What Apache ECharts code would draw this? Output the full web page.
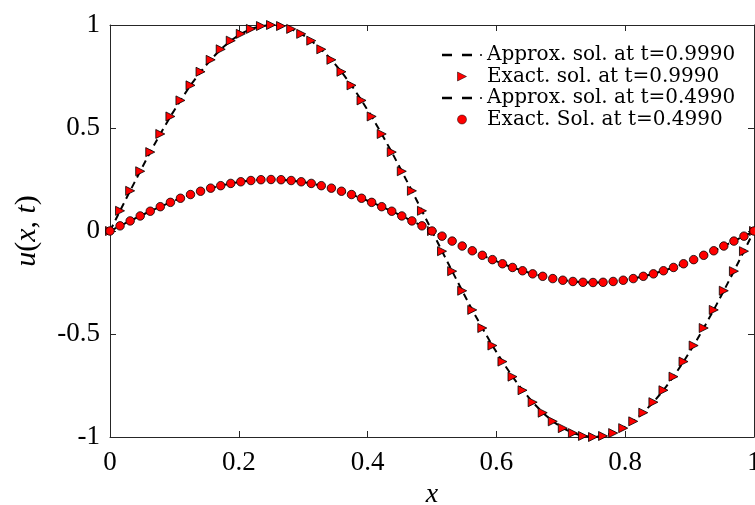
<!DOCTYPE html>
<html>
<head>
<meta charset="utf-8">
<script src="https://cdn.jsdelivr.net/npm/echarts@6/dist/echarts.min.js"></script>
<style>
  html, body { margin: 0; padding: 0; background: #fff; }
  #plot { width: 755px; height: 505px; }
</style>
</head>
<body>
<div id="plot"></div>
<script>
// x grid points
const xs = [0, 0.0156, 0.0313, 0.0469, 0.0625, 0.0781, 0.0938, 0.1094, 0.125, 0.1406, 0.1563, 0.1719, 0.1875,
    0.2031, 0.2188, 0.2344, 0.25, 0.2656, 0.2813, 0.2969, 0.3125, 0.3281, 0.3438, 0.3594, 0.375, 0.3906,
    0.4063, 0.4219, 0.4375, 0.4531, 0.4688, 0.4844, 0.5, 0.5156, 0.5313, 0.5469, 0.5625, 0.5781, 0.5938,
    0.6094, 0.625, 0.6406, 0.6563, 0.6719, 0.6875, 0.7031, 0.7188, 0.7344, 0.75, 0.7656, 0.7813, 0.7969,
    0.8125, 0.8281, 0.8438, 0.8594, 0.875, 0.8906, 0.9063, 0.9219, 0.9375, 0.9531, 0.9688, 0.9844, 1];

// u at t=0.9990
const u1 = [0, 0.098, 0.195, 0.290, 0.383, 0.471, 0.556, 0.634, 0.707, 0.773, 0.831, 0.882, 0.924, 0.957, 0.981, 0.995, 1.000,
    0.995, 0.981, 0.957, 0.924, 0.882, 0.831, 0.773, 0.707, 0.634, 0.556, 0.471, 0.383, 0.290, 0.195, 0.098, 0,
    -0.098, -0.195, -0.290, -0.383, -0.471, -0.556, -0.634, -0.707, -0.773, -0.831, -0.882, -0.924, -0.957, -0.981, -0.995, -1.000,
    -0.995, -0.981, -0.957, -0.924, -0.882, -0.831, -0.773, -0.707, -0.634, -0.556, -0.471, -0.383, -0.290, -0.195, -0.098, 0];

// u at t=0.4990
const u2 = [0, 0.025, 0.049, 0.073, 0.096, 0.118, 0.139, 0.159, 0.177, 0.193, 0.208, 0.220, 0.231, 0.239, 0.245, 0.249, 0.250,
    0.249, 0.245, 0.239, 0.231, 0.220, 0.208, 0.193, 0.177, 0.159, 0.139, 0.118, 0.096, 0.073, 0.049, 0.025, 0,
    -0.025, -0.049, -0.073, -0.096, -0.118, -0.139, -0.159, -0.177, -0.193, -0.208, -0.220, -0.231, -0.239, -0.245, -0.249, -0.250,
    -0.249, -0.245, -0.239, -0.231, -0.220, -0.208, -0.193, -0.177, -0.159, -0.139, -0.118, -0.096, -0.073, -0.049, -0.025, 0];

const names = ['Approx. sol. at t=0.9990', 'Exact. sol. at t=0.9990', 'Approx. sol. at t=0.4990', 'Exact. Sol. at t=0.4990'];

function pairs(ys) {
    return xs.map(function (x, i) { return [x, ys[i]]; });
}

const font = 'Liberation Serif';
const axisCol = '#262626';

// legend icons: "- - ." for the dashed lines, right-pointing triangle
const dashIcon = 'path://M0,0h10v2.5H0z M20,0h10v2.5h-10z M38,0.4h2v1.7h-2z';
const triIcon = 'path://M0,0L10,5L0,10z';

const myChart = echarts.init(document.getElementById('plot'));

const baseX = {
    type: 'value', min: 0, max: 1, interval: 0.2,
    splitLine: { show: false },
    axisLine: { show: true, onZero: false, lineStyle: { color: axisCol, width: 1 } },
    axisTick: { show: true, inside: true, length: 6, lineStyle: { color: axisCol } }
};
const baseY = {
    type: 'value', min: -1, max: 1, interval: 0.5,
    splitLine: { show: false },
    axisLine: { show: true, onZero: false, lineStyle: { color: axisCol, width: 1 } },
    axisTick: { show: true, inside: true, length: 6, lineStyle: { color: axisCol } }
};

const option = {
    animation: false,
    backgroundColor: '#fff',
    grid: { left: 110, right: 1, top: 25, bottom: 68, containLabel: false, outerBoundsMode: 'none' },
    legend: {
        orient: 'vertical',
        left: 437, top: 40,
        itemWidth: 40, itemHeight: 9, itemGap: 1.5,
        textStyle: { fontFamily: 'DejaVu Serif', fontSize: 20, color: '#000', lineHeight: 20 },
        data: [
            { name: names[0], icon: dashIcon },
            { name: names[1], icon: triIcon, itemStyle: { borderWidth: 0.5 } },
            { name: names[2], icon: dashIcon },
            { name: names[3], icon: 'circle', itemStyle: { borderWidth: 0.5 } }
        ]
    },
    xAxis: [
        Object.assign({}, baseX, {
            position: 'bottom',
            name: 'x', nameLocation: 'middle', nameGap: 40,
            nameTextStyle: { fontFamily: font, fontStyle: 'italic', fontSize: 28, color: '#000' },
            axisLabel: { fontFamily: font, fontSize: 27, color: '#000', margin: 12 }
        }),
        Object.assign({}, baseX, { position: 'top', axisLabel: { show: false } })
    ],
    yAxis: [
        Object.assign({}, baseY, {
            position: 'left',
            name: '{i|u}{n|(}{i|x}{n|, }{i|t}{n|)}', nameLocation: 'middle', nameGap: 68,
            nameTextStyle: {
                rich: {
                    i: { fontFamily: font, fontStyle: 'italic', fontSize: 30, color: '#000' },
                    n: { fontFamily: font, fontSize: 30, color: '#000' }
                }
            },
            axisLabel: { fontFamily: font, fontSize: 27, color: '#000', margin: 10 }
        }),
        Object.assign({}, baseY, { position: 'right', axisLabel: { show: false } })
    ],
    series: [
        {
            name: names[0], type: 'line', data: pairs(u1),
            symbol: 'none', smooth: false, z: 2,
            lineStyle: { color: '#000', width: 2, type: [7, 5] },
            itemStyle: { color: '#000' }
        },
        {
            name: names[1], type: 'scatter', data: pairs(u1),
            symbol: 'triangle', symbolRotate: -90, symbolSize: 9, z: 3,
            itemStyle: { color: '#ff0000', borderColor: '#000', borderWidth: 0.8, opacity: 1 }
        },
        {
            name: names[2], type: 'line', data: pairs(u2),
            symbol: 'none', smooth: false, z: 2,
            lineStyle: { color: '#000', width: 2, type: [7, 5] },
            itemStyle: { color: '#000' }
        },
        {
            name: names[3], type: 'scatter', data: pairs(u2),
            symbol: 'circle', symbolSize: 8.5, z: 3,
            itemStyle: { color: '#ff0000', borderColor: '#000', borderWidth: 0.8, opacity: 1 }
        }
    ]
};

myChart.setOption(option);
</script>
</body>
</html>
